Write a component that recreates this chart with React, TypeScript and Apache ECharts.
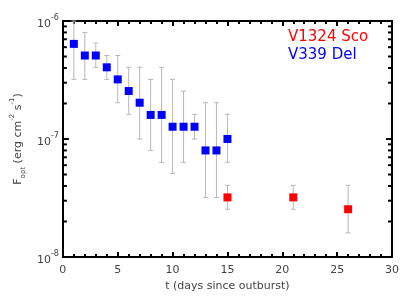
import React, { useEffect, useRef } from "react";
import * as echarts from "echarts";

const blueDays = [1, 2, 3, 4, 5, 6, 7, 8, 9, 10, 11, 12, 13, 14, 15];
const blueFlux = [6.4e-7, 5.1e-7, 5.1e-7, 4.05e-7, 3.2e-7, 2.55e-7, 2.03e-7, 1.6e-7, 1.6e-7, 1.27e-7, 1.27e-7, 1.27e-7, 8.0e-8, 8.0e-8, 1.0e-7];
const blueLo = [3.2e-7, 3.2e-7, 4.05e-7, 3.2e-7, 2.03e-7, 1.62e-7, 1.0e-7, 8.0e-8, 6.35e-8, 5.1e-8, 6.35e-8, 1.0e-7, 3.2e-8, 3.2e-8, 6.35e-8];
const blueHi = [1.0e-6, 8.0e-7, 6.5e-7, 5.1e-7, 5.1e-7, 4.05e-7, 4.05e-7, 3.2e-7, 4.05e-7, 3.2e-7, 2.55e-7, 1.62e-7, 2.03e-7, 2.03e-7, 1.62e-7];

const redDays = [15, 21, 26];
const redFlux = [3.2e-8, 3.2e-8, 2.54e-8];
const redLo = [2.54e-8, 2.54e-8, 1.6e-8];
const redHi = [4.05e-8, 4.05e-8, 4.05e-8];

const yMinorTicks = [2e-8, 3e-8, 4e-8, 5e-8, 6e-8, 7e-8, 8e-8, 9e-8, 2e-7, 3e-7, 4e-7, 5e-7, 6e-7, 7e-7, 8e-7, 9e-7];

const legendNames = ["V1324 Sco", "V339 Del"];
const FONT = "DejaVu Sans";

export default function App() {
  const ref = useRef<HTMLDivElement>(null);
  useEffect(() => {
    const chart = echarts.init(ref.current!, null, { renderer: "svg" });
    const errData = (xs: number[], lo: number[], hi: number[]) => xs.map((x, i) => [x, lo[i], hi[i]]);
    const errRender = (params: any, api: any) => {
      const x = api.value(0);
      const p1 = api.coord([x, api.value(2)]);
      const p2 = api.coord([x, api.value(1)]);
      const s = { stroke: "#b8b8b8", lineWidth: 1 };
      const w = 2.5;
      return {
        type: "group",
        children: [
          { type: "line", shape: { x1: p1[0], y1: p1[1], x2: p2[0], y2: p2[1] }, style: s },
          { type: "line", shape: { x1: p1[0] - w, y1: p1[1], x2: p1[0] + w, y2: p1[1] }, style: s },
          { type: "line", shape: { x1: p2[0] - w, y1: p2[1], x2: p2[0] + w, y2: p2[1] }, style: s },
        ],
      };
    };
    const minorRender = (params: any, api: any) => {
      const v = api.value(1);
      const a = api.coord([0, v]);
      const b = api.coord([30, v]);
      const s = { stroke: "#000", lineWidth: 2 };
      return {
        type: "group",
        children: [
          { type: "line", shape: { x1: a[0], y1: a[1], x2: a[0] + 4, y2: a[1] }, style: s },
          { type: "line", shape: { x1: b[0] - 4, y1: b[1], x2: b[0], y2: b[1] }, style: s },
        ],
      };
    };
    const axisLine = { show: true, onZero: false, lineStyle: { color: "#000", width: 2 } };
    const tickStyle = { color: "#000", width: 2 };
    const labelText = { color: "#444", fontFamily: FONT, fontSize: 11 };
    chart.setOption({
      animation: false,
      grid: { left: 61, right: 23, top: 21, bottom: 43 },
      xAxis: [
        {
          type: "value", min: 0, max: 30, interval: 5, position: "bottom",
          axisLine,
          axisTick: { show: true, inside: true, length: 5, lineStyle: tickStyle },
          minorTick: { show: true, splitNumber: 5, length: 3, lineStyle: tickStyle },
          splitLine: { show: false },
          axisLabel: { ...labelText, margin: 7 },
          name: "t (days since outburst)", nameLocation: "middle", nameGap: 22,
          nameTextStyle: { color: "#444", fontFamily: FONT, fontSize: 11 },
        },
        {
          type: "value", min: 0, max: 30, interval: 5, position: "top",
          axisLine,
          axisTick: { show: true, inside: true, length: 5, lineStyle: tickStyle },
          minorTick: { show: true, splitNumber: 5, length: 3, lineStyle: tickStyle },
          splitLine: { show: false },
          axisLabel: { show: false },
        },
      ],
      yAxis: [
        {
          type: "log", logBase: 10, min: 1e-8, max: 1e-6, position: "left",
          axisLine,
          axisTick: { show: true, inside: true, length: 6, lineStyle: tickStyle },
          splitLine: { show: false },
          axisLabel: {
            margin: 4,
            formatter: (v: number) => `{b|10}{s|${Math.round(Math.log10(v))}}`,
            rich: {
              b: { ...labelText, fontSize: 11, lineHeight: 16, verticalAlign: "bottom" },
              s: { ...labelText, fontSize: 8, lineHeight: 16, verticalAlign: "top" },
            },
          },
          name: "{n|F}{sub|opt}{n| (erg cm}{sup|-2}{n| s}{sup|-1}{n|)}",
          nameLocation: "middle", nameGap: 31, nameRotate: 90,
          nameTextStyle: {
            rich: {
              n: { color: "#444", fontFamily: FONT, fontSize: 11, lineHeight: 18, verticalAlign: "middle" },
              sub: { color: "#444", fontFamily: FONT, fontSize: 7, lineHeight: 18, verticalAlign: "bottom" },
              sup: { color: "#444", fontFamily: FONT, fontSize: 7, lineHeight: 18, verticalAlign: "top" },
            },
          },
        },
        {
          type: "log", logBase: 10, min: 1e-8, max: 1e-6, position: "right",
          axisLine,
          axisTick: { show: true, inside: true, length: 6, lineStyle: tickStyle },
          splitLine: { show: false },
          axisLabel: { show: false },
        },
      ],
      series: [
        {
          type: "custom", renderItem: minorRender, data: yMinorTicks.map((v) => [0, v]),
          encode: { x: 0, y: 1 }, silent: true, z: 5, clip: false,
        },
        {
          type: "custom", renderItem: errRender, data: errData(blueDays, blueLo, blueHi),
          encode: { x: 0, y: [1, 2] }, silent: true, z: 2,
        },
        {
          type: "custom", renderItem: errRender, data: errData(redDays, redLo, redHi),
          encode: { x: 0, y: [1, 2] }, silent: true, z: 2,
        },
        {
          name: legendNames[1], type: "scatter", symbol: "rect", symbolSize: 8, z: 3,
          itemStyle: { color: "#0000ff", opacity: 1 },
          data: blueDays.map((d, i) => [d, blueFlux[i]]),
        },
        {
          name: legendNames[0], type: "scatter", symbol: "rect", symbolSize: 8, z: 3,
          itemStyle: { color: "#ff0000", opacity: 1 },
          data: redDays.map((d, i) => [d, redFlux[i]]),
        },
      ],
      graphic: [
        { type: "text", left: 288, top: 28, style: { text: legendNames[0], fill: "#ff0000", font: `15px "${FONT}"` } },
        { type: "text", left: 288, top: 46, style: { text: legendNames[1], fill: "#0000ff", font: `15px "${FONT}"` } },
      ],
    });
    return () => chart.dispose();
  }, []);
  return <div ref={ref} style={{ position: "fixed", left: 0, top: 0, width: 415, height: 300 }} />;
}
